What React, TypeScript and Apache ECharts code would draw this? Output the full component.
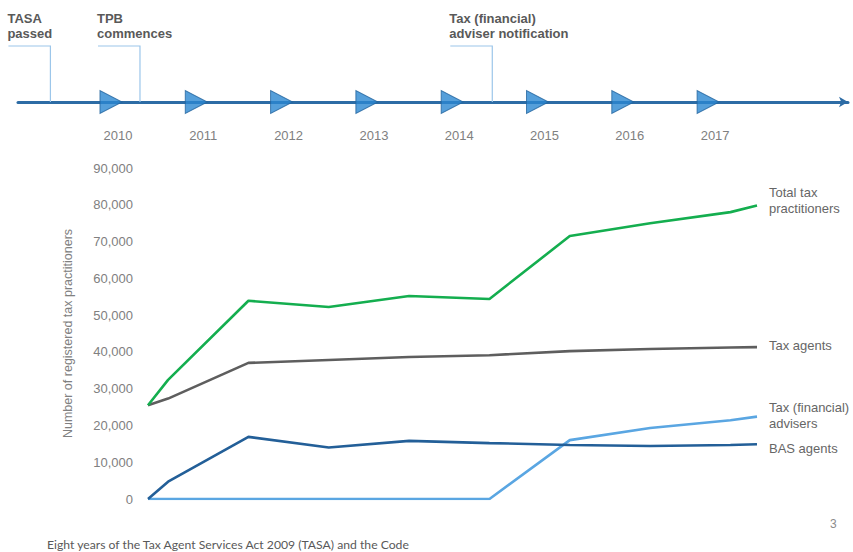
import React, { useEffect, useRef } from "react";
import * as echarts from "echarts";

// Timeline
const timelineYears = [2010, 2011, 2012, 2013, 2014, 2015, 2016, 2017];
const eventYears = [2009.29, 2010.34, 2014.47];
const eventLabels = ["TASA\npassed", "TPB\ncommences", "Tax (financial)\nadviser notification"];

// Chart data (x in years)
const xYears = [2009.75, 2010, 2011, 2012, 2013, 2014, 2015, 2016, 2017, 2017.33];
const totalPractitioners = [25500, 32400, 53900, 52200, 55200, 54400, 71500, 75000, 78000, 79800];
const taxAgents = [25500, 27300, 37000, 37800, 38600, 39100, 40200, 40800, 41200, 41300];
const basAgents = [0, 4700, 16900, 14000, 15800, 15200, 14700, 14400, 14700, 14900];
const taxFinancialAdvisers = [0, 0, 0, 0, 0, 0, 16000, 19300, 21400, 22400];
const seriesNames = ["Total tax practitioners", "Tax agents", "Tax (financial) advisers", "BAS agents"];
const seriesLabels = ["Total tax\npractitioners", "Tax agents", "Tax (financial)\nadvisers", "BAS agents"];

const yTicks = { min: 0, max: 90000, interval: 10000 };
const yAxisTitle = "Number of registered tax practitioners";
const footerText = "Eight years of the Tax Agent Services Act 2009 (TASA) and the Code";
const pageNumber = "3";

const FONT = "'Liberation Sans', Arial, sans-serif";

export default function App() {
  const ref = useRef<HTMLDivElement>(null);
  useEffect(() => {
    document.body.style.margin = "0";
    if (!ref.current) return;
    const chart = echarts.init(ref.current, null, { renderer: "svg" });
    const pair = (vals: number[]) => xYears.map((x, i) => [x, vals[i]]);
    const colors = ["#14AE4F", "#5E5E5E", "#5AA6E2", "#235F98"];
    const values = [totalPractitioners, taxAgents, taxFinancialAdvisers, basAgents];
    const labelOffsets = [[0, -5], [0, -2], [0, -1], [0, 4]];
    const zs = [4, 3, 2, 5];

    chart.setOption({
      animation: false,
      textStyle: { fontFamily: FONT },
      grid: [
        { left: 148, right: 96, top: 168, bottom: 53 },
        { left: 18, right: 5, top: 46, height: 56 },
      ],
      xAxis: [
        { gridIndex: 0, type: "value", min: 2009.75, max: 2017.33, show: false },
        {
          gridIndex: 1,
          type: "value",
          min: 2008.91,
          max: 2018.64,
          splitLine: { show: false },
          axisLine: {
            show: true,
            lineStyle: { color: "#2D6CA5", width: 3 },
            symbol: ["none", "arrow"],
            symbolSize: [8, 9],
          },
          axisTick: { show: false },
          axisLabel: {
            customValues: timelineYears,
            formatter: (v: number) => String(Math.round(v)),
            color: "#808080",
            fontSize: 13,
            margin: 27,
            padding: [0, 0, 0, 14],
            fontFamily: FONT,
          },
        },
      ],
      yAxis: [
        {
          gridIndex: 0,
          type: "value",
          min: yTicks.min,
          max: yTicks.max,
          interval: yTicks.interval,
          splitLine: { show: false },
          axisLine: { show: false },
          axisTick: { show: false },
          axisLabel: { color: "#808080", fontSize: 13, margin: 15, fontFamily: FONT },
          name: yAxisTitle,
          nameLocation: "middle",
          nameRotate: 90,
          nameGap: 74,
          nameTextStyle: { color: "#808080", fontSize: 12.5, fontFamily: FONT },
        },
        { gridIndex: 1, type: "value", min: 0, max: 1, show: false },
      ],
      series: [
        ...values.map((vals, i) => ({
          type: "line",
          name: seriesNames[i],
          xAxisIndex: 0,
          yAxisIndex: 0,
          data: pair(vals),
          showSymbol: false,
          z: zs[i],
          lineStyle: { color: colors[i], width: 2.6 },
          itemStyle: { color: colors[i] },
          endLabel: {
            show: true,
            formatter: () => seriesLabels[i],
            color: "#666666",
            fontSize: 13,
            lineHeight: 16,
            distance: 12,
            offset: labelOffsets[i],
            fontFamily: FONT,
          },
        })),
        {
          type: "scatter",
          xAxisIndex: 1,
          yAxisIndex: 1,
          data: timelineYears.map((y) => [y, 0]),
          symbol: "triangle",
          symbolRotate: -90,
          symbolSize: [23, 22],
          itemStyle: { color: "#2B87D1", borderColor: "#23649E", borderWidth: 1 },
          z: 5,
        },
        {
          type: "custom",
          xAxisIndex: 1,
          yAxisIndex: 1,
          data: eventYears.map((y) => [y, 1]),
          z: 3,
          renderItem: (params: any, api: any) => {
            const x = api.value(0);
            const p0 = api.coord([x, 0]);
            const p1 = api.coord([x, 1]);
            return {
              type: "group",
              children: [
                {
                  type: "polyline",
                  shape: { points: [[p1[0] - 42, p1[1]], [p1[0], p1[1]], [p1[0], p0[1]]] },
                  style: { stroke: "#9CC6EA", lineWidth: 1.2, fill: "none" },
                },
                {
                  type: "text",
                  x: p1[0] - 43,
                  y: p1[1] - 5.5,
                  style: {
                    text: eventLabels[params.dataIndex],
                    fill: "#595959",
                    font: `bold 13px ${FONT}`,
                    lineHeight: 15,
                    verticalAlign: "bottom",
                    align: "left",
                  },
                },
              ],
            };
          },
        },
      ],
      graphic: [
        {
          type: "text",
          left: 47,
          top: 538,
          style: { text: footerText, fill: "#595959", font: "12.2px Lato, sans-serif" },
        },
        {
          type: "text",
          left: 830,
          top: 518,
          style: { text: pageNumber, fill: "#8C8C8C", font: `12px ${FONT}` },
        },
      ],
    });
    return () => chart.dispose();
  }, []);
  return <div ref={ref} style={{ width: 853, height: 552 }} />;
}
